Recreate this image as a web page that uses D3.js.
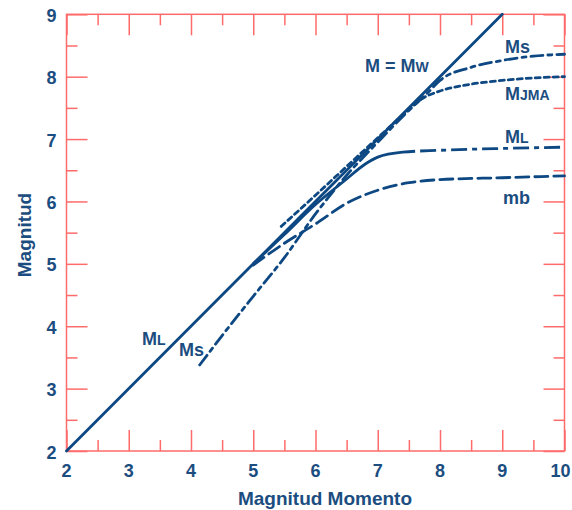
<!DOCTYPE html>
<html>
<head>
<meta charset="utf-8">
<script src="https://cdn.jsdelivr.net/npm/d3@7"></script>
<style>
  html, body { margin: 0; padding: 0; background: #ffffff; }
  svg { display: block; font-family: "Liberation Sans", Arial, sans-serif; font-weight: bold; }
</style>
</head>
<body>
<svg id="chart" width="572" height="510"></svg>
<script>
// ---- data ----
const xMajorTicks = [2, 3, 4, 5, 6, 7, 8, 9, 10];
const yMajorTicks = [2, 3, 4, 5, 6, 7, 8, 9];
const xMinorTicks = [2.5, 3.5, 4.5, 5.5, 6.5, 7.5, 8.5, 9.5];
const yMinorTicks = [2.5, 3.5, 4.5, 5.5, 6.5, 7.5, 8.5];

const mwX = [2, 9];
const mwY = [2, 9];

const msX = [4.14, 4.5, 5.0, 5.5, 6.0, 6.5, 7.0, 7.5, 7.8, 8.0, 8.5, 9.0, 9.5, 10.0];
const msY = [3.38, 3.85, 4.48, 5.1, 5.8, 6.42, 6.95, 7.46, 7.74, 7.94, 8.15, 8.26, 8.33, 8.36];

const mjmaX = [5.45, 6.0, 6.5, 7.0, 7.5, 7.7, 8.0, 8.5, 9.0, 9.5, 10.0];
const mjmaY = [5.6, 6.1, 6.56, 7.02, 7.47, 7.64, 7.77, 7.88, 7.94, 7.98, 8.0];

const mlX = [5.0, 5.5, 6.0, 6.5, 6.8, 7.0, 7.4, 8.0, 9.0, 10.0];
const mlY = [5.0, 5.47, 5.95, 6.36, 6.6, 6.71, 6.79, 6.82, 6.85, 6.87];

const mbX = [5.0, 5.5, 6.0, 6.5, 7.0, 7.5, 8.0, 9.0, 10.0];
const mbY = [4.98, 5.33, 5.64, 5.97, 6.18, 6.3, 6.35, 6.38, 6.41];

const xTitle = "Magnitud Momento";
const yTitle = "Magnitud";

// ---- layout ----
const svg = d3.select("#chart");
const pL = 66.5, pR = 564.5, pT = 14.3, pB = 451;
const x = d3.scaleLinear().domain([2, 10]).range([pL, pR]);
const y = d3.scaleLinear().domain([2, 9]).range([pB, pT]);

const axisColor = "#ff6b6b";
const lineColor = "#0d4883";
const textColor = "#1b4d80";

// frame ticks (inward, all four sides)
const majorLen = 21, minorLen = 11;
function addAxis(axisGen, transform) {
  const g = svg.append("g").attr("transform", transform).call(axisGen);
  g.selectAll("path.domain").remove();
  g.selectAll("line").attr("stroke", axisColor).attr("stroke-width", 1.5);
  g.selectAll("text").remove();
  return g;
}
addAxis(d3.axisTop(x).tickValues(xMajorTicks).tickSizeInner(majorLen).tickSizeOuter(0), `translate(0,${pB})`);
addAxis(d3.axisTop(x).tickValues(xMinorTicks).tickSizeInner(minorLen).tickSizeOuter(0), `translate(0,${pB})`);
addAxis(d3.axisBottom(x).tickValues(xMajorTicks).tickSizeInner(majorLen).tickSizeOuter(0), `translate(0,${pT})`);
addAxis(d3.axisBottom(x).tickValues(xMinorTicks).tickSizeInner(minorLen).tickSizeOuter(0), `translate(0,${pT})`);
addAxis(d3.axisRight(y).tickValues(yMajorTicks).tickSizeInner(majorLen).tickSizeOuter(0), `translate(${pL},0)`);
addAxis(d3.axisRight(y).tickValues(yMinorTicks).tickSizeInner(minorLen).tickSizeOuter(0), `translate(${pL},0)`);
addAxis(d3.axisLeft(y).tickValues(yMajorTicks).tickSizeInner(majorLen).tickSizeOuter(0), `translate(${pR},0)`);
addAxis(d3.axisLeft(y).tickValues(yMinorTicks).tickSizeInner(minorLen).tickSizeOuter(0), `translate(${pR},0)`);

svg.append("rect")
  .attr("x", pL).attr("y", pT)
  .attr("width", pR - pL).attr("height", pB - pT)
  .attr("fill", "none").attr("stroke", axisColor).attr("stroke-width", 1.5);

// tick labels
svg.append("g").selectAll("text").data(xMajorTicks).join("text")
  .attr("x", d => d === 10 ? x(d) - 4 : x(d)).attr("y", pB + 26)
  .attr("text-anchor", "middle").attr("font-size", 18).attr("fill", textColor)
  .text(d => d);
svg.append("g").selectAll("text").data(yMajorTicks).join("text")
  .attr("x", pL - 10).attr("y", d => y(d) + 7.5)
  .attr("text-anchor", "end").attr("font-size", 18).attr("fill", textColor)
  .text(d => d);

// axis titles
svg.append("text").attr("x", 325).attr("y", 505)
  .attr("text-anchor", "middle").attr("font-size", 19).attr("fill", textColor)
  .text(xTitle);
svg.append("text").attr("transform", "translate(31,235) rotate(-90)")
  .attr("text-anchor", "middle").attr("font-size", 19).attr("fill", textColor)
  .text(yTitle);

// lines
const lineGen = d3.line().x(d => x(d[0])).y(d => y(d[1])).curve(d3.curveMonotoneX);
function draw(xs, ys, dash) {
  svg.append("path")
    .datum(xs.map((v, i) => [v, ys[i]]))
    .attr("d", lineGen)
    .attr("fill", "none").attr("stroke", lineColor).attr("stroke-width", 2.8)
    .attr("stroke-linecap", "round")
    .attr("stroke-dasharray", dash);
}
draw(mwX, mwY, null);
draw(msX, msY, "12,5,4,5");
draw(mjmaX, mjmaY, "5,4");
draw(mbX, mbY, "13,6");
// ML: solid up to ~7.6, then dash-dot
const mlPts = mlX.map((v, i) => [v, mlY[i]]);
const mlPath = svg.append("path").datum(mlPts).attr("d", lineGen)
  .attr("fill", "none").attr("stroke", lineColor).attr("stroke-width", 2.8);
const mlNode = mlPath.node();
const total = mlNode.getTotalLength();
let lo = 0, hi = total;
for (let k = 0; k < 30; k++) {
  const mid = (lo + hi) / 2;
  if (mlNode.getPointAtLength(mid).x < x(7.6)) lo = mid; else hi = mid;
}
const pattern = [lo, 5];
let acc = lo + 5;
while (acc < total) { pattern.push(16, 5, 5, 5); acc += 31; }
mlPath.attr("stroke-dasharray", pattern.join(","));

// curve labels
function label(px, py, parts) {
  const t = svg.append("text").attr("x", px).attr("y", py).attr("fill", textColor);
  parts.forEach(p => t.append("tspan").attr("font-size", p[1]).text(p[0]));
}
label(365, 72, [["M = M", 18], ["W", 14]]);
label(505, 53, [["Ms", 18]]);
label(505, 100, [["M", 18], ["JMA", 14]]);
label(505, 143, [["M", 18], ["L", 14]]);
label(503, 204, [["mb", 18]]);
label(142, 345, [["M", 18], ["L", 14]]);
label(179, 356, [["Ms", 18]]);
</script>
</body>
</html>
